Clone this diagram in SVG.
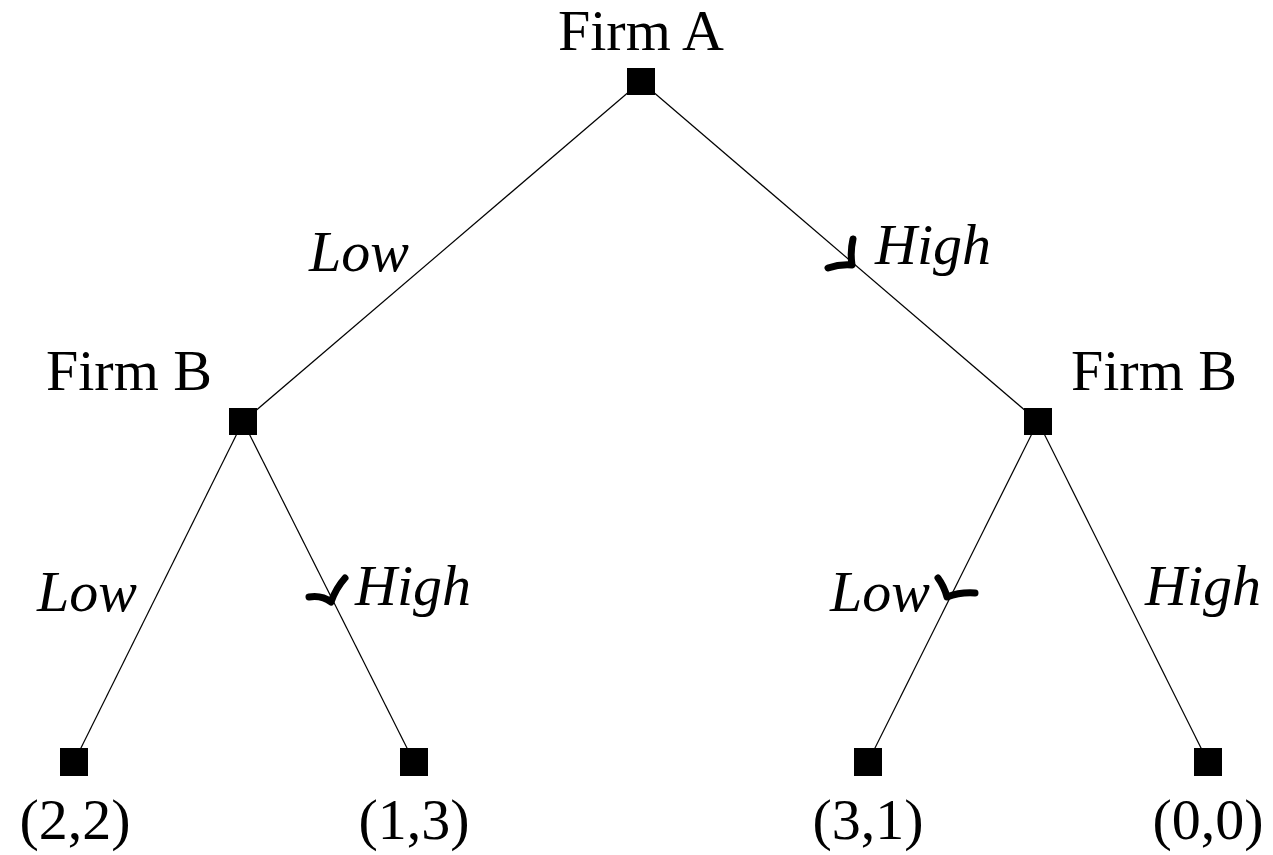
<svg xmlns="http://www.w3.org/2000/svg" width="1273" height="855" viewBox="0 0 1273 855">
<style>
.lbl{font-family:"Liberation Serif","Times New Roman",serif;font-size:58px;fill:#000}
.it{font-style:italic}
.edge{stroke:#000;stroke-width:1.2;fill:none}
.node{fill:#000}
.chk{stroke:#000;stroke-width:7;fill:none;stroke-linecap:round;stroke-linejoin:round}
</style>
<rect width="1273" height="855" fill="#fff"/>
<g id="connectors">
<line class="edge" x1="641" y1="81.5" x2="243" y2="421.5"/>
<line class="edge" x1="641" y1="81.5" x2="1038" y2="421.5"/>
<line class="edge" x1="243" y1="421.5" x2="74" y2="762"/>
<line class="edge" x1="243" y1="421.5" x2="414" y2="762"/>
<line class="edge" x1="1038" y1="421.5" x2="868" y2="762"/>
<line class="edge" x1="1038" y1="421.5" x2="1208" y2="762"/>
<text class="lbl it" x="409" y="271" text-anchor="end">Low</text>
<text class="lbl it" x="875" y="264">High</text>
<text class="lbl it" x="137" y="611" text-anchor="end">Low</text>
<text class="lbl it" x="355" y="605">High</text>
<text class="lbl it" x="930" y="611" text-anchor="end">Low</text>
<text class="lbl it" x="1145" y="605">High</text>
<path class="chk" d="M853 239 Q850 252 852 265 Q840 264 828 268"/>
<path class="chk" d="M309 597 Q322 595 331 602 Q336 588 345 578"/>
<path class="chk" d="M938 578 Q944 586 947 597 Q960 592 975 593"/>
</g>
<g id="firmA">
<rect class="node" x="627" y="68" width="28" height="27"/>
<text class="lbl" x="641" y="50" text-anchor="middle">Firm A</text>
</g>
<g id="firmB-left">
<rect class="node" x="229" y="408" width="28" height="27"/>
<text class="lbl" x="129" y="390" text-anchor="middle">Firm B</text>
</g>
<g id="firmB-right">
<rect class="node" x="1024" y="408" width="28" height="27"/>
<text class="lbl" x="1154" y="390" text-anchor="middle">Firm B</text>
</g>
<g id="leaf-22">
<rect class="node" x="60" y="748" width="28" height="28"/>
<text class="lbl" x="75" y="839" text-anchor="middle">(2,2)</text>
</g>
<g id="leaf-13">
<rect class="node" x="400" y="748" width="28" height="28"/>
<text class="lbl" x="414" y="839" text-anchor="middle">(1,3)</text>
</g>
<g id="leaf-31">
<rect class="node" x="854" y="748" width="28" height="28"/>
<text class="lbl" x="868" y="839" text-anchor="middle">(3,1)</text>
</g>
<g id="leaf-00">
<rect class="node" x="1194" y="748" width="28" height="28"/>
<text class="lbl" x="1208" y="839" text-anchor="middle">(0,0)</text>
</g>
</svg>
